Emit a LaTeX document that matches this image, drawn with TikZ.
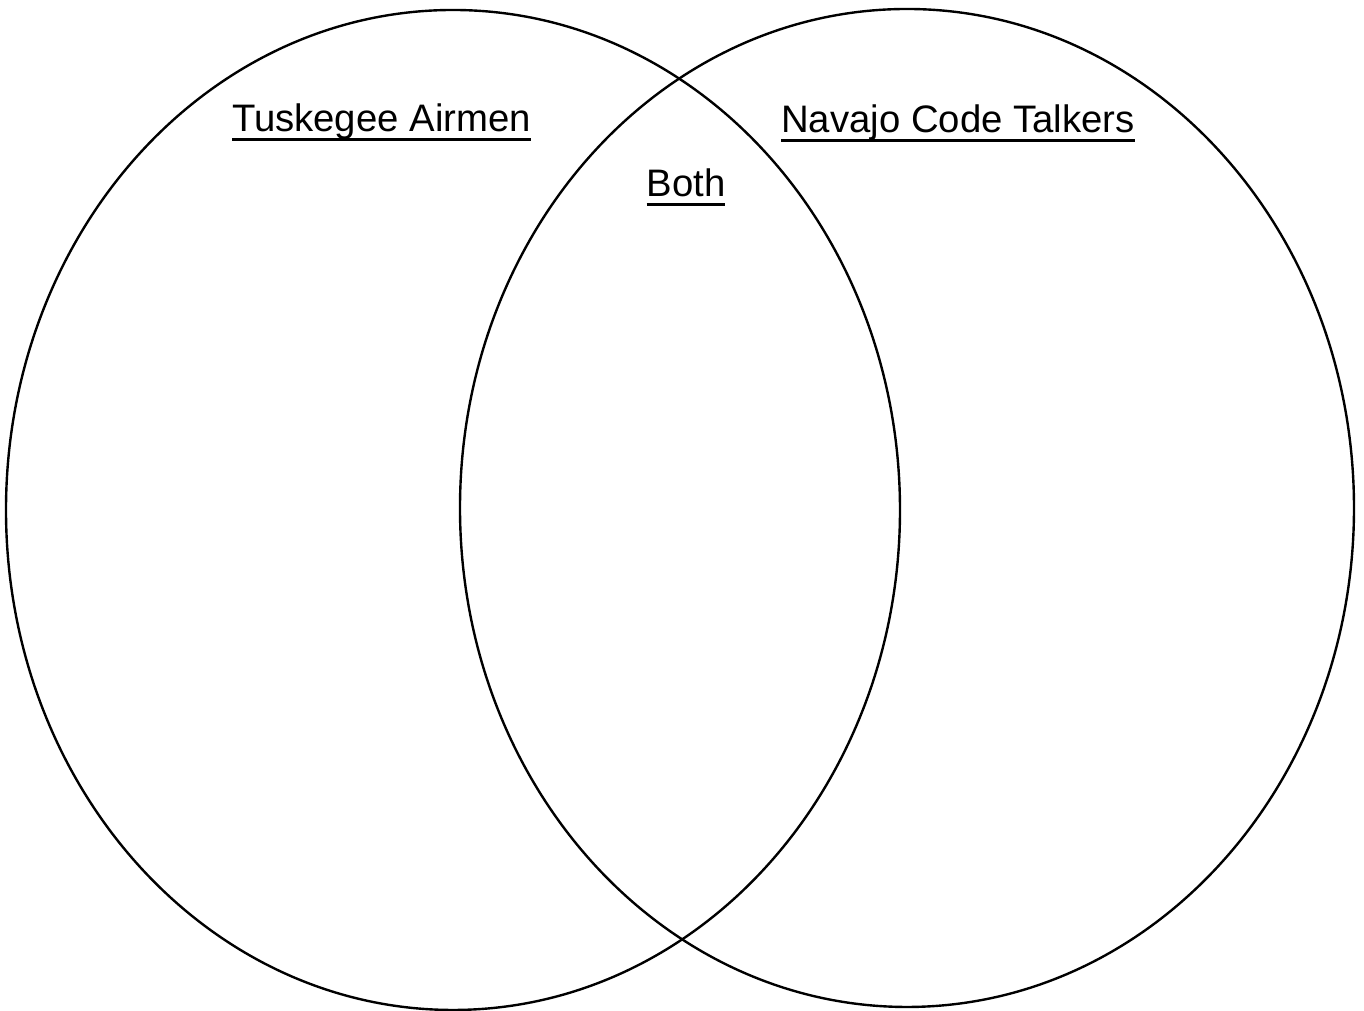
\documentclass[tikz,border=0pt]{standalone}
\usepackage{fontspec}
\setmainfont{Liberation Sans}
\usepackage{tikz}
\usetikzlibrary{shapes.geometric, positioning}
\newcommand{\headline}[1]{\setbox0\hbox{#1}\rlap{\rule[-2.55pt]{\wd0}{0.85pt}}\box0}

\begin{document}
\begin{tikzpicture}[
    setring/.style={ellipse, draw=black, line width=0.68pt, inner sep=0pt,
                    minimum width=8.94cm, minimum height=10cm},
    setlabel/.style={anchor=base, inner sep=0pt, font=\fontsize{10.9pt}{13pt}\selectfont}
]
    \useasboundingbox (0,0) rectangle (13.64,10.11);

    % Sets
    \node[setring] (tuskegee) at (4.53,5.01) {};
    \node[setring, minimum height=9.98cm] (navajo) at (9.07,5.03) {};

    % Headings
    \node[setlabel] (ttitle) at (3.815,8.79) {\headline{Tuskegee Airmen}};
    \node[setlabel] (ntitle) at (9.58,8.78) {\headline{Navajo Code Talkers}};
    \node[setlabel] (btitle) at (6.86,8.14) {\headline{Both}};
\end{tikzpicture}
\end{document}
